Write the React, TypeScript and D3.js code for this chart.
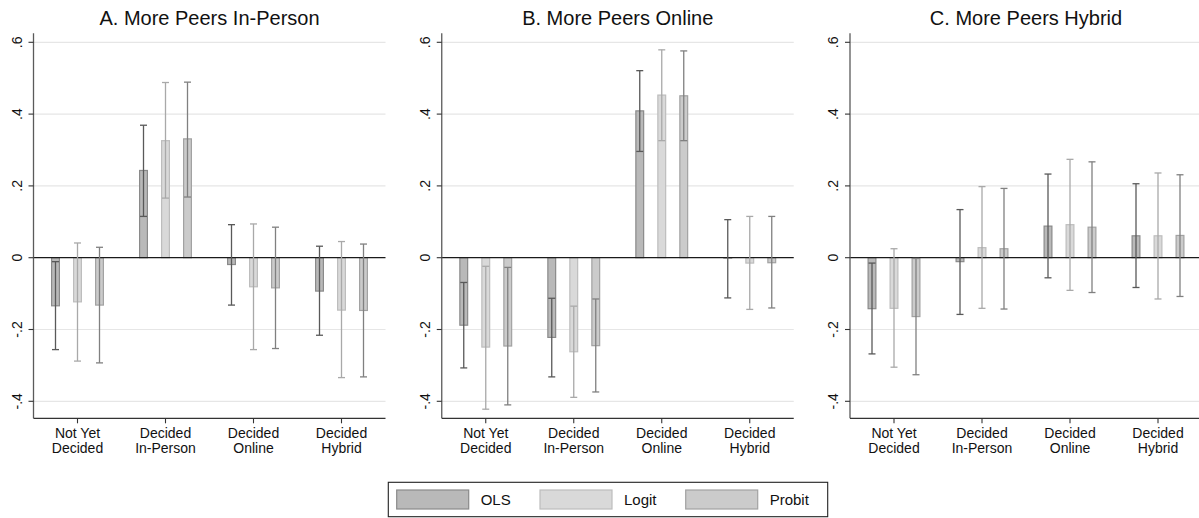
import React from 'react';
import * as d3 from 'd3';

const categories = [["Not Yet", "Decided"], ["Decided", "In-Person"], ["Decided", "Online"], ["Decided", "Hybrid"]];
const seriesNames = ["OLS", "Logit", "Probit"];
const panelTitles = ["A. More Peers In-Person", "B. More Peers Online", "C. More Peers Hybrid"];
const yTicks = [-0.4, -0.2, 0, 0.2, 0.4, 0.6];
const yTickLabels = ["-.4", "-.2", "0", ".2", ".4", ".6"];

// rows: OLS, Logit, Probit ; columns: categories
const inPersonCoef = [[-0.134, 0.243, -0.019, -0.093], [-0.123, 0.326, -0.081, -0.146], [-0.132, 0.331, -0.084, -0.147]];
const inPersonLow = [[-0.256, 0.115, -0.132, -0.216], [-0.288, 0.166, -0.256, -0.334], [-0.293, 0.169, -0.253, -0.332]];
const inPersonHigh = [[-0.011, 0.369, 0.092, 0.032], [0.041, 0.488, 0.094, 0.045], [0.029, 0.489, 0.085, 0.038]];

const onlineCoef = [[-0.188, -0.222, 0.409, -0.001], [-0.249, -0.262, 0.453, -0.015], [-0.246, -0.245, 0.451, -0.014]];
const onlineLow = [[-0.307, -0.332, 0.296, -0.112], [-0.422, -0.389, 0.326, -0.144], [-0.41, -0.374, 0.326, -0.14]];
const onlineHigh = [[-0.069, -0.113, 0.521, 0.106], [-0.024, -0.135, 0.579, 0.115], [-0.027, -0.115, 0.576, 0.115]];

const hybridCoef = [[-0.142, -0.011, 0.088, 0.061], [-0.141, 0.028, 0.092, 0.061], [-0.164, 0.025, 0.085, 0.062]];
const hybridLow = [[-0.268, -0.158, -0.056, -0.083], [-0.305, -0.141, -0.091, -0.115], [-0.326, -0.143, -0.097, -0.108]];
const hybridHigh = [[-0.015, 0.134, 0.233, 0.206], [0.025, 0.198, 0.274, 0.236], [-0.002, 0.193, 0.267, 0.231]];

const panels = [
    { title: panelTitles[0], coef: inPersonCoef, low: inPersonLow, high: inPersonHigh },
    { title: panelTitles[1], coef: onlineCoef, low: onlineLow, high: onlineHigh },
    { title: panelTitles[2], coef: hybridCoef, low: hybridLow, high: hybridHigh },
];

const barFill = ["#b9b9b9", "#d9d9d9", "#cbcbcb"];
const barEdge = ["#8a8a8a", "#bdbdbd", "#a2a2a2"];
const ciColor = ["#595959", "#a9a9a9", "#808080"];

const font = "Arial, 'Liberation Sans', Helvetica, sans-serif";

const W = 1199, H = 518;
const panelStep = 408.25;
const plotLeft = 33.5, plotRight = 385.5;
const plotTop = 33.3, plotBottom = 418.3;

const Panel: React.FC<{ idx: number }> = ({ idx }) => {
    const p = panels[idx];
    const ox = idx * panelStep;
    const y = d3.scaleLinear().domain([-0.4, 0.6]).range([401.3, 42.3]);
    const x0 = d3.scaleBand<number>().domain(d3.range(categories.length)).range([plotLeft, plotRight]).padding(0);
    const x1 = d3.scaleBand<number>().domain(d3.range(seriesNames.length)).range([-33, 33]);
    const barW = 9;
    const cap = 3.5;

    return (
        <g transform={`translate(${ox},0)`}>
            <text x={(plotLeft + plotRight) / 2} y={25} textAnchor="middle" fontSize={20} fontFamily={font} fill="#111">{p.title}</text>

            {yTicks.filter(t => t !== 0).map(t => (
                <line key={t} x1={plotLeft} x2={plotRight} y1={y(t)} y2={y(t)} stroke="#e6e6e6" strokeWidth={1.2} />
            ))}

            {p.coef.map((row, s) => row.map((v, c) => {
                const cx = (x0(c) as number) + x0.bandwidth() / 2 + (x1(s) as number) + x1.bandwidth() / 2;
                return (
                    <rect key={`b${s}-${c}`} x={cx - barW / 2 + 0.6} width={barW - 1.2}
                        y={Math.min(y(v), y(0))} height={Math.abs(y(v) - y(0))}
                        fill={barFill[s]} stroke={barEdge[s]} strokeWidth={1.2} />
                );
            }))}

            <line x1={plotLeft} x2={plotRight} y1={y(0)} y2={y(0)} stroke="#1a1a1a" strokeWidth={1.3} />

            {p.coef.map((row, s) => row.map((_, c) => {
                const cx = (x0(c) as number) + x0.bandwidth() / 2 + (x1(s) as number) + x1.bandwidth() / 2;
                const lo = y(p.low[s][c]), hi = y(p.high[s][c]);
                return (
                    <g key={`e${s}-${c}`} stroke={ciColor[s]} strokeWidth={1.3}>
                        <line x1={cx} x2={cx} y1={lo} y2={hi} />
                        <line x1={cx - cap} x2={cx + cap} y1={lo} y2={lo} />
                        <line x1={cx - cap} x2={cx + cap} y1={hi} y2={hi} />
                    </g>
                );
            }))}

            <line x1={plotLeft} x2={plotLeft} y1={plotTop} y2={plotBottom} stroke="#5a5a5a" strokeWidth={1.3} />
            <line x1={plotLeft} x2={plotRight} y1={plotBottom} y2={plotBottom} stroke="#333" strokeWidth={1.3} />

            {yTicks.map((t, i) => (
                <g key={`yt${t}`}>
                    <line x1={plotLeft - 5} x2={plotLeft} y1={y(t)} y2={y(t)} stroke="#333" strokeWidth={1.1} />
                    <text transform={`translate(${plotLeft - 12},${y(t)}) rotate(-90)`} textAnchor="middle"
                        fontSize={14} fontFamily={font} fill="#111">{yTickLabels[i]}</text>
                </g>
            ))}

            {categories.map((lab, c) => {
                const cx = (x0(c) as number) + x0.bandwidth() / 2;
                return (
                    <g key={`xt${c}`}>
                        <line x1={cx} x2={cx} y1={plotBottom} y2={plotBottom + 5} stroke="#333" strokeWidth={1.1} />
                        <text x={cx} y={438} textAnchor="middle" fontSize={14} fontFamily={font} fill="#111">{lab[0]}</text>
                        <text x={cx} y={453} textAnchor="middle" fontSize={14} fontFamily={font} fill="#111">{lab[1]}</text>
                    </g>
                );
            })}
        </g>
    );
};

const Legend: React.FC = () => {
    const swatchX = [396.7, 540, 685.7];
    return (
        <g>
            <rect x={388.3} y={482.3} width={439.4} height={34.4} fill="#fff" stroke="#222" strokeWidth={1.1} />
            {seriesNames.map((s, i) => (
                <g key={s}>
                    <rect x={swatchX[i]} y={490} width={72} height={19} fill={barFill[i]} stroke={barEdge[i]} strokeWidth={1.2} />
                    <text x={swatchX[i] + 84} y={505} fontSize={15} fontFamily={font} fill="#111">{s}</text>
                </g>
            ))}
        </g>
    );
};

const App: React.FC = () => {
    return (
        <svg width={W} height={H} style={{ position: 'absolute', left: 0, top: 0, background: '#fff' }}>
            <rect width={W} height={H} fill="#fff" />
            {panels.map((_, i) => <Panel key={i} idx={i} />)}
            <Legend />
        </svg>
    );
};

export default App;
